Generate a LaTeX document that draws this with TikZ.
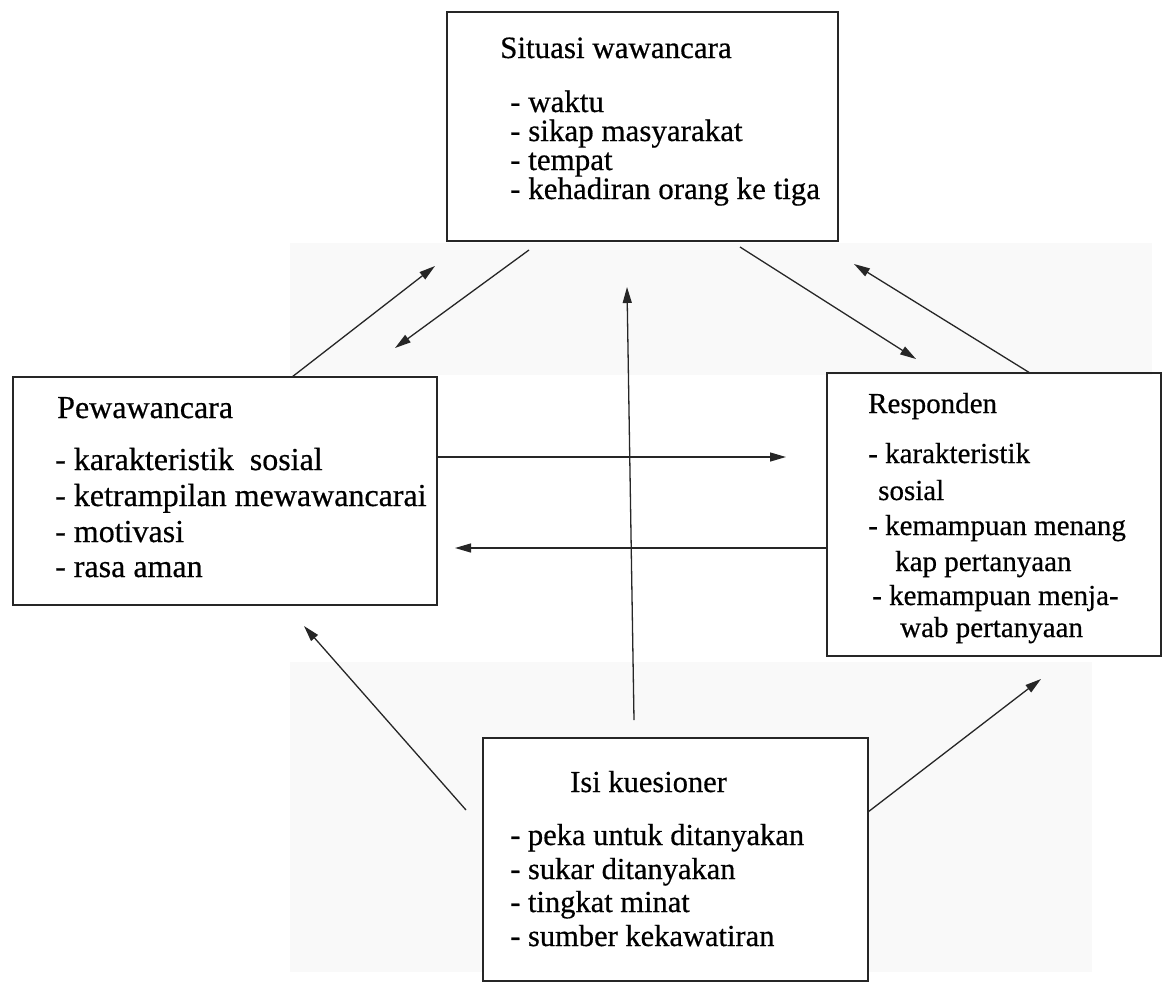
\documentclass[tikz,border=0pt]{standalone}
\usepackage{fontspec}
\setmainfont{Liberation Serif}[FakeBold=0.5]
\usetikzlibrary{arrows.meta,fit}
\begin{document}
\begin{tikzpicture}[x=1pt,y=-1pt,
  box/.style={draw=black!85, line width=2.6pt, inner sep=0pt},
  txt/.style={anchor=base west, inner sep=0pt},
  ft/.style={font=\fontsize{31}{31}\selectfont},
  fl/.style={font=\fontsize{32}{32}\selectfont},
  fr/.style={font=\fontsize{29}{29}\selectfont},
  fb/.style={font=\fontsize{30.5}{30.5}\selectfont},
  conn/.style={line width=1.3pt, black!85, -{Triangle[length=16pt,width=9pt]}}]
\useasboundingbox (0,0) rectangle (1164,983);
% faint scan patches
\fill[black!2.5] (290,243) rectangle (1152,375);
\fill[black!2.5] (290,662) rectangle (1092,972);
% boxes
\node[box, fit={(447,12) (838,241)}] (top) {};
\node[box, fit={(13,377) (437,605)}] (left) {};
\node[box, fit={(827,373) (1161,656)}] (right) {};
\node[box, fill=white, fit={(483,738) (868,981)}] (bot) {};
% top box text
\node[txt,ft] (t0) at (500,58) {Situasi wawancara};
\node[txt,ft] (t1) at (510,112) {- waktu};
\node[txt,ft] (t2) at (510,141) {- sikap masyarakat};
\node[txt,ft] (t3) at (510,170) {- tempat};
\node[txt,ft] (t4) at (510,199) {- kehadiran orang ke tiga};
% left box text
\node[txt,fl] (l0) at (57,418) {Pewawancara};
\node[txt,fl] (l1) at (55,470) {- karakteristik\ \ sosial};
\node[txt,fl] (l2) at (55,506) {- ketrampilan mewawancarai};
\node[txt,fl] (l3) at (55,542) {- motivasi};
\node[txt,fl] (l4) at (55,577) {- rasa aman};
% right box text
\node[txt,fr] (r0) at (868,413) {Responden};
\node[txt,fr] (r1) at (868,463) {- karakteristik};
\node[txt,fr] (r2) at (878,500) {sosial};
\node[txt,fr] (r3) at (868,535) {- kemampuan menang};
\node[txt,fr] (r4) at (895,571) {kap pertanyaan};
\node[txt,fr] (r5) at (872,605) {- kemampuan menja-};
\node[txt,fr] (r6) at (900,637) {wab pertanyaan};
% bottom box text
\node[txt,fb] (b0) at (570,792) {Isi kuesioner};
\node[txt,fb] (b1) at (510,845) {- peka untuk ditanyakan};
\node[txt,fb] (b2) at (510,879) {- sukar ditanyakan};
\node[txt,fb] (b3) at (510,912) {- tingkat minat};
\node[txt,fb] (b4) at (510,946) {- sumber kekawatiran};
% connector end points
\coordinate (a1s) at (292,377);  \coordinate (a1e) at (435,266);
\coordinate (a2s) at (529,250);  \coordinate (a2e) at (395,348);
\coordinate (a3s) at (634,720);  \coordinate (a3e) at (627,287);
\coordinate (a4s) at (740,247);  \coordinate (a4e) at (916,359);
\coordinate (a5s) at (1030,373); \coordinate (a5e) at (854,264);
\coordinate (a6s) at (437,457);  \coordinate (a6e) at (786,457);
\coordinate (a7s) at (827,548);  \coordinate (a7e) at (455,548);
\coordinate (a8s) at (466,810);  \coordinate (a8e) at (304,626);
\coordinate (a9s) at (868,812);  \coordinate (a9e) at (1041,679);
% connectors
\draw[conn] (a1s) -- (a1e);
\draw[conn] (a2s) -- (a2e);
\draw[conn] (a3s) -- (a3e);
\draw[conn] (a4s) -- (a4e);
\draw[conn] (a5s) -- (a5e);
\draw[conn] (a6s) -- (a6e);
\draw[conn] (a7s) -- (a7e);
\draw[conn] (a8s) -- (a8e);
\draw[conn] (a9s) -- (a9e);
\end{tikzpicture}
\end{document}
